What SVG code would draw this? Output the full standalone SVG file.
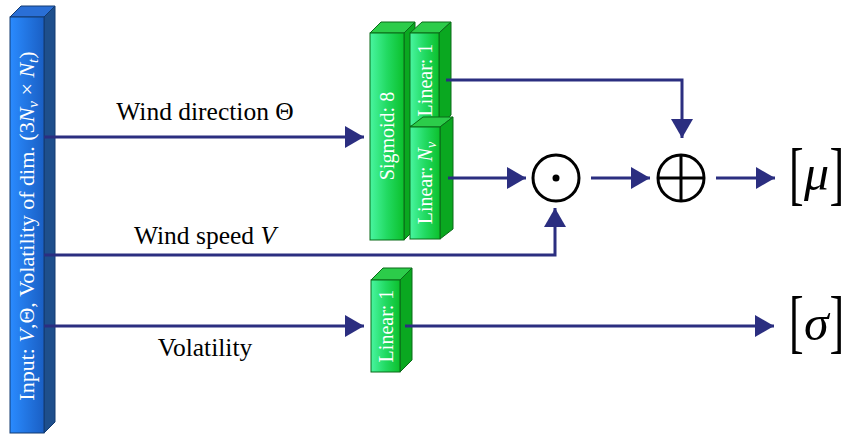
<svg xmlns="http://www.w3.org/2000/svg" width="845" height="436" viewBox="0 0 845 436">
<defs>
<linearGradient id="gBlue" x1="0" y1="0" x2="1" y2="0">
<stop offset="0" stop-color="#2a8bff"/>
<stop offset="1" stop-color="#1a5fc4"/>
</linearGradient>
<linearGradient id="gGreen" x1="0" y1="0" x2="1" y2="0">
<stop offset="0" stop-color="#48f5a0"/>
<stop offset="0.5" stop-color="#22da62"/>
<stop offset="1" stop-color="#0cc02c"/>
</linearGradient>
<marker id="arr" markerUnits="userSpaceOnUse" markerWidth="19" markerHeight="22" refX="19" refY="11" orient="auto">
<path d="M0,0 L19,11 L0,22 z" fill="#2b2e80"/>
</marker>
<style>
text{font-family:'Liberation Serif',serif}
.conn{fill:none;stroke:#2b2e80;stroke-width:3}
.lbl{font-size:25.5px;fill:#000;text-anchor:middle}
.blk{font-size:20px;fill:#fff;text-anchor:middle}
.bar{font-size:22px;fill:#fff;text-anchor:middle}
.gf{fill:url(#gGreen);stroke:#0a6a18;stroke-width:1}
.gt{fill:#2ccc4a;stroke:#0a6a18;stroke-width:1}
.gs{fill:#0aa820;stroke:#0a6a18;stroke-width:1}
.op{fill:none;stroke:#000;stroke-width:3}
.br{fill:#000;font-size:44px}
.sym{fill:#000;font-size:50px;font-style:italic}
.it{font-style:italic}
</style>
</defs>

<g id="input">
<polygon points="10,17 21,6 55,6 44,17" fill="#2a6fd6" stroke="#123a70" stroke-width="1"/>
<polygon points="44,17 55,6 55,422 44,433" fill="#1e4f8c" stroke="#123a70" stroke-width="1"/>
<rect x="10" y="17" width="34" height="416" fill="url(#gBlue)" stroke="#123a70" stroke-width="1"/>
<text class="bar" font-family="Liberation Serif" transform="translate(34,226) rotate(-90)">Input: <tspan class="it">V</tspan>,Θ, Volatility of dim. (3<tspan class="it">N</tspan><tspan class="it" font-size="15" dy="4">v</tspan><tspan dy="-4"> × </tspan><tspan class="it">N</tspan><tspan class="it" font-size="15" dy="4">t</tspan><tspan dy="-4">)</tspan></text>
</g>

<g id="sigmoid">
<polygon class="gt" points="370,33 381,22 415,22 404,33"/>
<polygon class="gs" points="404,33 415,22 415,229 404,240"/>
<rect class="gf" x="370" y="33" width="34" height="207"/>
<text class="blk" font-family="Liberation Serif" transform="translate(394,136) rotate(-90)">Sigmoid: 8</text>
</g>

<g id="linear1">
<polygon class="gt" points="410,33 422,22 451,22 439,33"/>
<polygon class="gs" points="439,33 451,22 451,115 439,126"/>
<rect class="gf" x="410" y="33" width="29" height="93"/>
<text class="blk" font-family="Liberation Serif" transform="translate(432,80) rotate(-90)">Linear: 1</text>
</g>

<g id="linearNv">
<polygon class="gt" points="410,127 423,117 453,117 440,127"/>
<polygon class="gs" points="440,127 453,117 453,229 440,239"/>
<rect class="gf" x="410" y="127" width="30" height="112"/>
<text class="blk" font-family="Liberation Serif" transform="translate(432,183) rotate(-90)">Linear: <tspan class="it">N</tspan><tspan class="it" font-size="14" dy="4">v</tspan></text>
</g>

<g id="linearVol">
<polygon class="gt" points="371,280 383,268 412,268 400,280"/>
<polygon class="gs" points="400,280 412,268 412,360 400,372"/>
<rect class="gf" x="371" y="280" width="29" height="92"/>
<text class="blk" font-family="Liberation Serif" transform="translate(393,326) rotate(-90)">Linear: 1</text>
</g>

<g id="odot">
<circle class="op" cx="556" cy="178" r="23"/>
<circle cx="556" cy="178" r="3.5" fill="#000"/>
</g>

<g id="oplus">
<circle class="op" cx="681" cy="178" r="23"/>
<line class="op" x1="658" y1="178" x2="704" y2="178"/>
<line class="op" x1="681" y1="155" x2="681" y2="201"/>
</g>

<g id="mu">
<text class="br" font-family="Liberation Serif" transform="translate(789,197) scale(1,1.6)">[</text>
<text class="sym" font-family="Liberation Serif" x="804" y="190">μ</text>
<text class="br" font-family="Liberation Serif" transform="translate(829.5,197) scale(1,1.6)">]</text>
</g>

<g id="sigma">
<text class="br" font-family="Liberation Serif" transform="translate(789,345) scale(1,1.6)">[</text>
<text class="sym" font-family="Liberation Serif" x="804" y="340">σ</text>
<text class="br" font-family="Liberation Serif" transform="translate(829.5,345) scale(1,1.6)">]</text>
</g>

<g id="connectors">
<line class="conn" x1="44" y1="137" x2="364" y2="137" marker-end="url(#arr)"/>
<path class="conn" d="M44,255 H555 V208" marker-end="url(#arr)"/>
<line class="conn" x1="44" y1="326" x2="364" y2="326" marker-end="url(#arr)"/>
<path class="conn" d="M446,80 H682 V138" marker-end="url(#arr)"/>
<line class="conn" x1="448" y1="178" x2="526" y2="178" marker-end="url(#arr)"/>
<line class="conn" x1="591" y1="178" x2="650" y2="178" marker-end="url(#arr)"/>
<line class="conn" x1="716" y1="178" x2="775" y2="178" marker-end="url(#arr)"/>
<line class="conn" x1="405" y1="326" x2="774" y2="326" marker-end="url(#arr)"/>
<text class="lbl" font-family="Liberation Serif" x="205" y="120">Wind direction Θ</text>
<text class="lbl" font-family="Liberation Serif" x="205" y="244">Wind speed <tspan class="it">V</tspan></text>
<text class="lbl" font-family="Liberation Serif" x="205" y="356">Volatility</text>
</g>
</svg>
